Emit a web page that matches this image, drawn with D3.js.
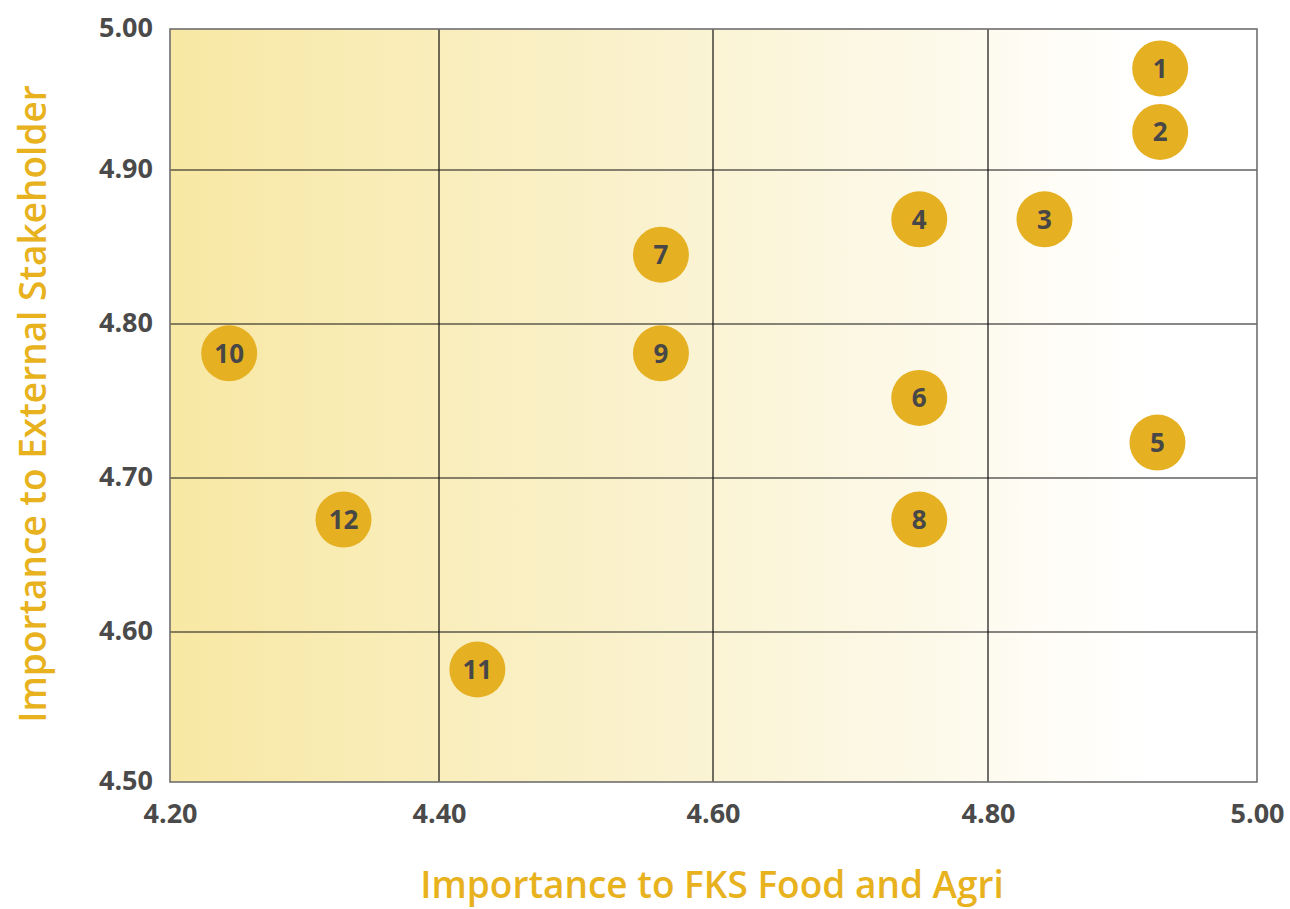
<!DOCTYPE html>
<html>
<head>
<meta charset="utf-8">
<script src="https://cdn.jsdelivr.net/npm/d3@7/dist/d3.min.js"></script>
<style>
  html, body { margin: 0; padding: 0; background: #fff; }
  svg { display: block; font-family: "Open Sans", Lato, sans-serif; }
</style>
</head>
<body>
<svg id="chart" width="1290" height="909"></svg>
<script>
// Materiality matrix: issue number, importance to company (x), importance to stakeholders (y)
const issueIds   = [1, 2, 3, 4, 5, 6, 7, 8, 9, 10, 11, 12];
const companyVal = [4.928, 4.928, 4.842, 4.750, 4.926, 4.750, 4.562, 4.750, 4.562, 4.244, 4.428, 4.329];
const stakeVal   = [4.972, 4.927, 4.868, 4.868, 4.723, 4.752, 4.845, 4.673, 4.781, 4.781, 4.575, 4.673];

const xTicks = [4.20, 4.40, 4.60, 4.80, 5.00];
const yTicks = [4.50, 4.60, 4.70, 4.80, 4.90, 5.00];

const xTitle = "Importance to FKS Food and Agri";
const yTitle = "Importance to External Stakeholder";

const svg = d3.select("#chart");
const plotL = 170, plotR = 1257, plotT = 29, plotB = 782;

// Grid bands in this layout are not evenly spaced, so each band gets its own segment
const x = d3.scaleLinear().domain(xTicks).range([170, 439, 713, 988, 1257]);
const y = d3.scaleLinear().domain(yTicks).range([782, 632, 478, 324, 170, 29]);

// Background fade from pale yellow to white
const defs = svg.append("defs");
const grad = defs.append("linearGradient").attr("id", "bgFade")
  .attr("x1", "0%").attr("x2", "100%").attr("y1", "0%").attr("y2", "0%");
grad.append("stop").attr("offset", "0%").attr("stop-color", "#F8E8A4");
grad.append("stop").attr("offset", "45%").attr("stop-color", "#FAF2CF");
grad.append("stop").attr("offset", "90%").attr("stop-color", "#FFFFFF");

svg.append("rect")
  .attr("x", plotL).attr("y", plotT)
  .attr("width", plotR - plotL).attr("height", plotB - plotT)
  .attr("fill", "url(#bgFade)");

// Grid lines
const grid = svg.append("g");
grid.selectAll(".vg").data(xTicks.slice(1, -1)).join("line")
  .attr("x1", d => x(d)).attr("x2", d => x(d))
  .attr("y1", plotT).attr("y2", plotB)
  .attr("stroke", "#111").attr("stroke-width", 1.2);
grid.selectAll(".hg").data(yTicks.slice(1, -1)).join("line")
  .attr("x1", plotL).attr("x2", plotR)
  .attr("y1", d => y(d)).attr("y2", d => y(d))
  .attr("stroke", "#111").attr("stroke-width", 1.2);

// Frame
svg.append("rect")
  .attr("x", plotL).attr("y", plotT)
  .attr("width", plotR - plotL).attr("height", plotB - plotT)
  .attr("fill", "none").attr("stroke", "#6e6e6e").attr("stroke-width", 1.6);

// Axes (labels only)
const xAxis = svg.append("g").attr("transform", `translate(0,${plotB})`)
  .call(d3.axisBottom(x).tickValues(xTicks).tickFormat(d3.format(".2f")).tickSize(0));
const yAxis = svg.append("g").attr("transform", `translate(${plotL},0)`)
  .call(d3.axisLeft(y).tickValues(yTicks).tickFormat(d3.format(".2f")).tickSize(0).tickPadding(17));
[xAxis, yAxis].forEach(a => {
  a.select(".domain").remove();
  a.selectAll("text")
    .attr("fill", "#4a4a4a")
    .style("font-family", "'Open Sans', sans-serif")
    .style("font-size", "27px")
    .style("font-weight", "700");
});
yAxis.selectAll("text").attr("dy", "0.26em");
xAxis.selectAll("text").attr("y", 41).attr("dy", 0);

// Axis titles
svg.append("text")
  .attr("x", 712).attr("y", 898)
  .attr("text-anchor", "middle")
  .attr("fill", "#E8B21E")
  .style("font-size", "37px").style("font-weight", "600")
  .text(xTitle);
svg.append("text")
  .attr("transform", `translate(46,404) rotate(-90)`)
  .attr("text-anchor", "middle")
  .attr("fill", "#E8B21E")
  .style("font-size", "37px").style("font-weight", "600")
  .text(yTitle);

// Issue markers
const pts = issueIds.map((id, i) => ({ id, cx: companyVal[i], cy: stakeVal[i] }));
const mk = svg.append("g").selectAll("g").data(pts).join("g")
  .attr("transform", d => `translate(${x(d.cx)},${y(d.cy)})`);
mk.append("circle").attr("r", 28).attr("fill", "#E6B023");
mk.append("text")
  .attr("text-anchor", "middle").attr("dy", "0.36em")
  .attr("fill", "#474747")
  .style("font-size", "26px").style("font-weight", "700")
  .text(d => d.id);
</script>
</body>
</html>
